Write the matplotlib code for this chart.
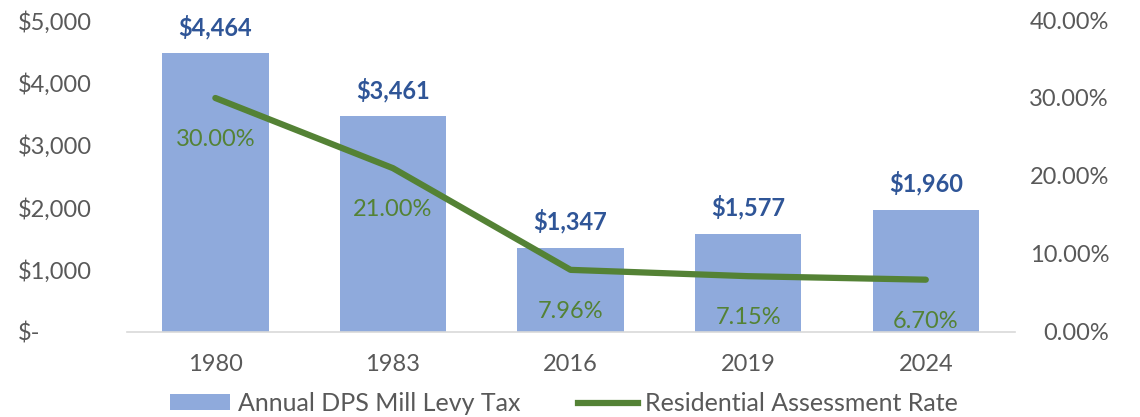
import matplotlib
matplotlib.use("Agg")
import matplotlib.pyplot as plt
from matplotlib.patches import Patch
from matplotlib.lines import Line2D

years = ["1980", "1983", "2016", "2019", "2024"]
tax = [4464, 3461, 1347, 1577, 1960]
rate = [30.00, 21.00, 7.96, 7.15, 6.70]
left_ticks = [0, 1000, 2000, 3000, 4000, 5000]
left_labels = ["$-", "$1,000", "$2,000", "$3,000", "$4,000", "$5,000"]
right_ticks = [0, 10, 20, 30, 40]
right_labels = ["0.00%", "10.00%", "20.00%", "30.00%", "40.00%"]

BAR = "#8FAADC"
GREEN = "#548235"
BLUE = "#2F5597"
GRAY = "#595959"
FONT = "Lato"
FS = 17

fig = plt.figure(figsize=(11.4, 4.17), dpi=100)
ax = fig.add_axes([0.111, 0.204, 0.779, 0.748])
x = list(range(len(years)))
bars = ax.bar(x, tax, width=0.6, color=BAR, zorder=1)
ax.set_xlim(-0.5, len(years) - 0.5)
ax.set_ylim(0, 5000)
ax.set_yticks(left_ticks)
ax.set_yticklabels(left_labels, fontsize=FS, color=GRAY, family=FONT, ha="left")
ax.tick_params(axis="y", length=0, pad=78)
ax.set_xticks(x)
ax.set_xticklabels(years, fontsize=FS, color=GRAY, family=FONT)
ax.tick_params(axis="x", length=0, pad=16)
for s in ["top", "left", "right"]:
    ax.spines[s].set_visible(False)
ax.spines["bottom"].set_color("#D9D9D9")
ax.spines["bottom"].set_linewidth(1.2)

for xi, v in zip(x, tax):
    ax.annotate(f"${v:,}", (xi, v), xytext=(0, 19), textcoords="offset points",
                ha="center", va="center", fontsize=FS, fontweight="bold",
                color=BLUE, family=FONT)

ax2 = ax.twinx()
ax2.plot(x, rate, color=GREEN, lw=4.5, solid_capstyle="round", zorder=3)
ax2.set_ylim(0, 40)
ax2.set_yticks(right_ticks)
ax2.set_yticklabels(right_labels, fontsize=FS, color=GRAY, family=FONT, ha="right")
ax2.tick_params(axis="y", length=0, pad=68)
for s in ["top", "left", "right", "bottom"]:
    ax2.spines[s].set_visible(False)
for xi, v in zip(x, rate):
    ax2.annotate(f"{v:.2f}%", (xi, v), xytext=(0, -30), textcoords="offset points",
                 ha="center", va="center", fontsize=FS, color=GREEN, family=FONT)

handles = [Patch(facecolor=BAR, edgecolor="none"),
           Line2D([0], [0], color=GREEN, lw=4.5)]
fig.legend(handles, ["Annual DPS Mill Levy Tax", "Residential Assessment Rate"],
           loc="center", bbox_to_anchor=(0.495, 0.032), ncol=2, frameon=False,
           prop={"family": FONT, "size": 18}, labelcolor=GRAY,
           handlelength=2.4, handleheight=0.6, handletextpad=0.3,
           columnspacing=2.3, borderaxespad=0)

fig.savefig("out.png", dpi=100)
